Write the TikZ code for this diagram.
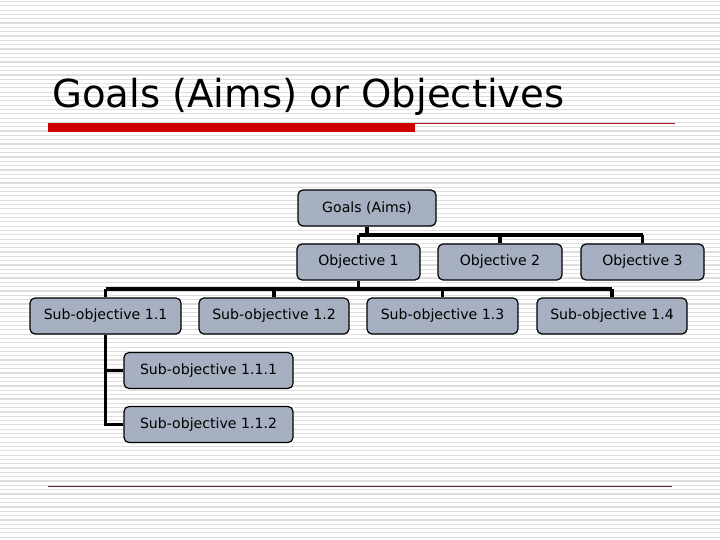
\documentclass[tikz,border=0pt]{standalone}
\usepackage{fontspec}
\setmainfont{DejaVu Sans}
\definecolor{boxfill}{RGB}{166,176,192}
\definecolor{stripe}{RGB}{222,222,222}
\definecolor{redbar}{RGB}{204,0,0}
\definecolor{thinred}{RGB}{170,20,30}
\definecolor{bottomline}{RGB}{110,30,45}
\tikzset{
  orgbox/.style={draw=black, line width=1.2pt, fill=boxfill, rounded corners=5pt,
    minimum height=36pt, inner sep=0pt, font=\fontsize{14.1}{16}\selectfont},
  conn/.style={draw=black, line width=3.2pt}
}
\begin{document}
\begin{tikzpicture}[x=1pt,y=-1pt]
\useasboundingbox (0,0) rectangle (720,540);
\fill[white] (0,0) rectangle (720,540);
\foreach \i in {0,...,125} {
  \draw[stripe, line width=1.2pt] (0,{1.5+4.32*\i}) -- (720,{1.5+4.32*\i});
}
% title
\node[anchor=base west, inner sep=0pt, font=\fontsize{38.6}{44}\selectfont] (title) at (52,108) {Goals (Aims) or Objectives};
\fill[redbar] (48,123) rectangle (415,132);
\draw[thinred, line width=0.8pt] (415,123.5) -- (675,123.5);
\draw[bottomline, line width=1pt] (48,486) -- (672,486);

% connector levels
\coordinate (b1) at (0,235);
\coordinate (b2) at (0,289);

% nodes
\node[orgbox, minimum width=138pt] (g) at (367,208) {Goals (Aims)};
\node[orgbox, minimum width=123pt] (o1) at (358.5,262) {Objective 1};
\node[orgbox, minimum width=124pt] (o2) at (500,262) {Objective 2};
\node[orgbox, minimum width=123pt] (o3) at (642.5,262) {Objective 3};
\node[orgbox, minimum width=151pt] (s11) at (105.5,316) {Sub-objective 1.1};
\node[orgbox, minimum width=150pt] (s12) at (274,316) {Sub-objective 1.2};
\node[orgbox, minimum width=151pt] (s13) at (442.5,316) {Sub-objective 1.3};
\node[orgbox, minimum width=150pt] (s14) at (612,316) {Sub-objective 1.4};
\node[orgbox, minimum width=169pt] (s111) at (208.5,370.5) {Sub-objective 1.1.1};
\node[orgbox, minimum width=169pt] (s112) at (208.5,424.5) {Sub-objective 1.1.2};

\draw[conn] (g.south) -- (g.south |- b1);
\draw[conn] (o1.north |- b1) -- (o3.north |- b1);
\draw[conn] (o1.north |- b1) -- (o1.north);
\draw[conn] (o2.north |- b1) -- (o2.north);
\draw[conn] (o3.north |- b1) -- (o3.north);
\draw[conn] (o1.south) -- (o1.south |- b2);
\draw[conn] (s11.north |- b2) -- (s14.north |- b2);
\draw[conn] (s11.north |- b2) -- (s11.north);
\draw[conn] (s12.north |- b2) -- (s12.north);
\draw[conn] (s13.north |- b2) -- (s13.north);
\draw[conn] (s14.north |- b2) -- (s14.north);
\draw[conn] (s11.south) -- (s11.south |- s112.west) -- (s112.west);
\draw[conn] (s11.south |- s111.west) -- (s111.west);
\end{tikzpicture}
\end{document}
